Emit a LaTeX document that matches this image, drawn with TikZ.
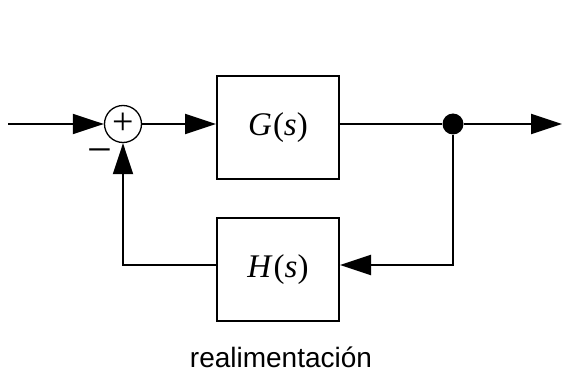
\documentclass[tikz,border=0pt]{standalone}
\usepackage{fontspec}
\setmainfont{Liberation Serif}
\setsansfont{Liberation Sans}
\usetikzlibrary{arrows.meta,positioning}
\tikzset{
  block/.style={draw, rectangle, line width=2pt, minimum width=122pt, minimum height=103pt, inner sep=0pt, font=\fontsize{33}{33}\selectfont},
  sumnode/.style={draw, circle, line width=1.3pt, minimum size=37pt, inner sep=0pt, font=\fontsize{38}{38}\selectfont},
  dot/.style={circle, fill, minimum size=21pt, inner sep=0pt},
  sign/.style={font=\fontsize{44}{44}\selectfont, inner sep=0pt},
  lbl/.style={font=\sffamily\fontsize{28}{30}\selectfont, inner sep=0pt, anchor=base},
  wire/.style={line width=2pt},
  arr/.style={-{Triangle[length=31pt,width=20pt]}, line width=2pt}
}

\begin{document}
\begin{tikzpicture}[x=1pt,y=-1pt]
\useasboundingbox (0,0) rectangle (563,385);
\node[sumnode] (sum) at (123,124) {+};
\node[block] (G) at (278,127.5) {\textit{G}\kern1pt(\textit{s})};
\node[block] (H) at (278,269.5) {\textit{H}\kern1pt(\textit{s})};
\node[dot] (split) at (453,124) {};
\node[sign] (minus) at (100,157) {−};
\node[lbl] (cap) at (281,367) {realimentación};
\coordinate (in) at (8,124);
\coordinate (out) at (562,124);
\coordinate (fb) at (453,265);
\coordinate (fbl) at (123,265);
% forward path
\draw[arr] (in) -- (sum);
\draw[arr] (sum) -- (sum -| G.west);
\draw[wire] (G.east |- sum) -- (split);
\draw[arr] (split) -- (out);
% feedback path
\draw[arr] (split) -- (fb) -- (fb -| H.east);
\draw[arr] (fb -| H.west) -- (fbl) -- (sum);
\end{tikzpicture}
\end{document}
